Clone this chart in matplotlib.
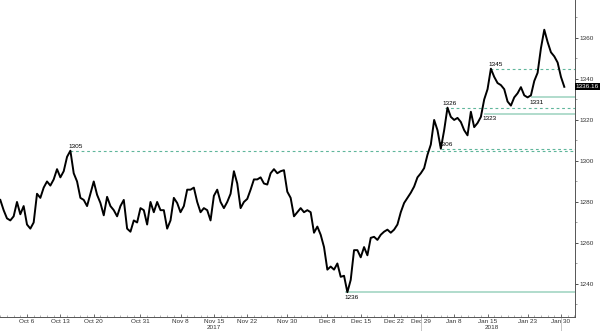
"""Gold spot price, Oct 2017 - Jan 2018, with support/resistance levels."""

import matplotlib
matplotlib.use("Agg")
import matplotlib.pyplot as plt
import numpy as np
from matplotlib.ticker import FixedLocator, MultipleLocator

plt.rcParams["font.family"] = ["Liberation Sans", "DejaVu Sans"]

# prices sampled every half trading day, starting Oct 2 2017 (trading-day index 1)
START_DAY = 1.0
STEP_DAYS = 0.5
prices = [
    1281, 1276, 1272, 1271, 1273, 1280, 1274, 1278, 1269, 1267,
    1270, 1284, 1282, 1287, 1290, 1288, 1291, 1296, 1292, 1295,
    1302, 1305, 1294, 1290, 1282, 1281, 1278, 1284, 1290, 1283.5,
    1279.5, 1273.5, 1282.5, 1278, 1276, 1273, 1278, 1281, 1267, 1265.5,
    1271, 1270, 1277, 1276, 1269, 1280,
    1275, 1280, 1276, 1276, 1267, 1271, 1282, 1279.5, 1275, 1278,
    1286, 1286, 1287, 1280, 1275, 1277, 1276, 1271, 1283, 1286,
    1280, 1277, 1280, 1284, 1295, 1289, 1277, 1280, 1281.5, 1286,
    1291, 1291, 1292, 1289, 1288.5, 1294, 1296, 1294, 1295, 1295.5,
    1285, 1282, 1273, 1275, 1277,
    1275, 1276, 1275, 1265, 1268, 1264, 1258, 1247, 1248.5, 1247,
    1250, 1243.5, 1244, 1236, 1242, 1256.5, 1256.5, 1253, 1258, 1254,
    1262.5, 1263, 1261.5, 1264, 1265.5, 1266.5, 1265, 1266.5, 1269, 1275,
    1279.5, 1282, 1284.5, 1287.5, 1292, 1294, 1296.5, 1303, 1308,
    1320, 1315, 1306, 1315, 1326, 1321.5, 1320, 1321, 1319, 1315,
    1312.5, 1324, 1316.5, 1318.5, 1321.5, 1330, 1335, 1345, 1341, 1338,
    1337, 1335, 1329, 1327, 1331, 1333, 1336, 1332, 1331, 1332,
    1339, 1343, 1355, 1364, 1358, 1353, 1351, 1348, 1341, 1336.16,
]

# trading-day index of each labelled date (weekends, Dec 25 and Jan 1 removed)
tick_days = [5, 10, 15, 22, 28, 33, 38, 44, 50, 55, 60, 64, 69, 74, 80, 85]
tick_labels = ["Oct 6", "Oct 13", "Oct 20", "Oct 31", "Nov 8", "Nov 15",
               "Nov 22", "Nov 30", "Dec 8", "Dec 15", "Dec 22", "Dec 29",
               "Jan 8", "Jan 15", "Jan 23", "Jan 30"]
year_days = [33, 74.6]
year_labels = ["2017", "2018"]
separator_days = [64, 85]

# horizontal levels: value, start day, dashed?, label above?
level_values = [1305, 1236, 1306, 1326, 1345, 1323, 1331]
level_starts = [11.5, 52.8, 67.0, 67.6, 74.4, 73.6, 80.6]
level_dashed = [True, False, True, True, True, False, False]
level_above = [True, False, True, True, True, False, False]

DASH_COLOR = "#5fb69b"
SOLID_COLOR = "#aad9c8"
FONT_SIZE = 4.6

days = START_DAY + STEP_DAYS * np.arange(len(prices))

fig = plt.figure(figsize=(6.0, 3.31), dpi=100)
ax = fig.add_axes([0.0, 0.0423, 0.9583, 0.9577])

x_max = 87.1
for value, start, dashed, above in zip(level_values, level_starts,
                                       level_dashed, level_above):
    if dashed:
        ax.plot([start, x_max], [value, value], color=DASH_COLOR, lw=0.8,
                ls=(0, (2.5, 2.5)), zorder=1)
    else:
        ax.plot([start, x_max], [value, value], color=SOLID_COLOR, lw=1.3,
                zorder=1)
    ax.text(start - 0.3, value + (0.6 if above else -1.2), str(value),
            fontsize=FONT_SIZE, ha="left", va="bottom" if above else "top",
            zorder=3)

ax.plot(days, prices, color="black", lw=1.4, zorder=2)

ax.set_xlim(0.955, x_max)
ax.set_ylim(1223.9, 1378.5)

for side in ("left", "top"):
    ax.spines[side].set_visible(False)
for side in ("right", "bottom"):
    ax.spines[side].set_color("#555555")
    ax.spines[side].set_linewidth(0.7)

ax.yaxis.tick_right()
ax.yaxis.set_major_locator(FixedLocator([1240, 1260, 1280, 1300, 1320, 1340, 1360]))
ax.yaxis.set_minor_locator(MultipleLocator(10))
ax.tick_params(axis="y", which="major", direction="out", length=2,
               width=0.6, pad=1, labelsize=FONT_SIZE, colors="#333333")
ax.tick_params(axis="y", which="minor", direction="out", length=1.5,
               width=0.5, colors="#777777")

ax.xaxis.set_major_locator(FixedLocator(tick_days))
ax.set_xticklabels(tick_labels)
ax.xaxis.set_minor_locator(MultipleLocator(1))
ax.tick_params(axis="x", which="major", direction="in", length=2,
               width=0.5, pad=1.5, labelsize=FONT_SIZE, colors="#333333")
ax.tick_params(axis="x", which="minor", direction="in", length=1.5,
               width=0.4, colors="#777777")

for day, label in zip(year_days, year_labels):
    ax.text(day, -0.024, label, transform=ax.get_xaxis_transform(),
            fontsize=FONT_SIZE, ha="center", va="top", color="#333333",
            clip_on=False)
for day in separator_days:
    ax.plot([day, day], [-0.003, -0.045], transform=ax.get_xaxis_transform(),
            color="#bbbbbb", lw=0.6, clip_on=False)

ax.text(x_max + 0.15, prices[-1], f"{prices[-1]:.2f}",
        fontsize=FONT_SIZE, color="white", ha="left", va="center",
        bbox=dict(boxstyle="square,pad=0.15", fc="black", ec="none"),
        clip_on=False)

fig.savefig("out.png", dpi=100)
